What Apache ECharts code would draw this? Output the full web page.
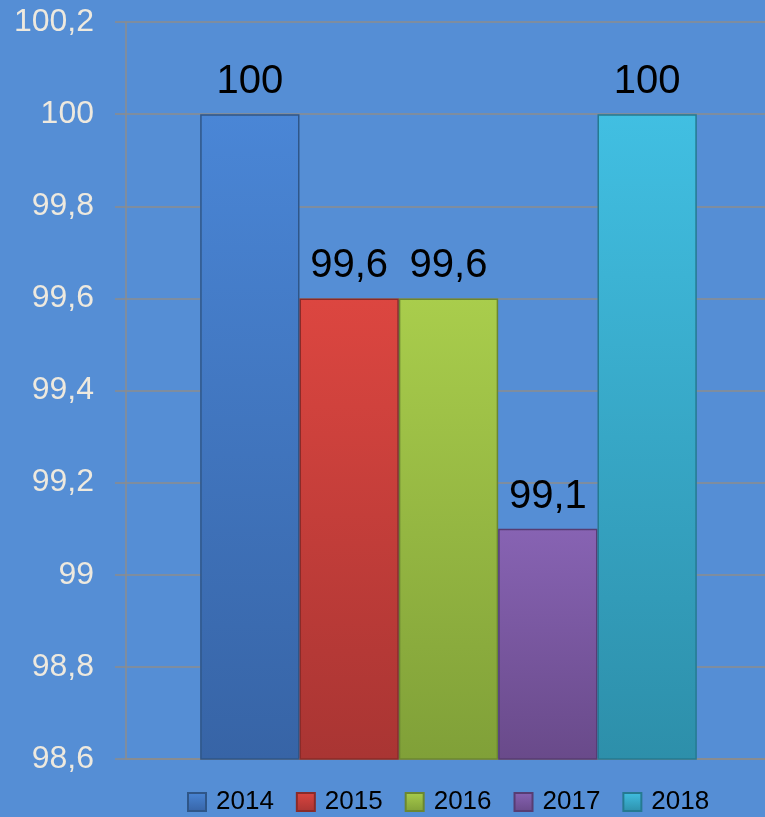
<!DOCTYPE html>
<html>
<head>
<meta charset="utf-8">
<script src="https://cdn.jsdelivr.net/npm/echarts@6/dist/echarts.min.js"></script>
<style>
html,body{margin:0;padding:0;background:#558ED5;overflow:hidden;}
#chart{width:771px;height:817px;}
</style>
</head>
<body>
<div id="chart"></div>
<script>
var years = ['2014', '2015', '2016', '2017', '2018'];
var values = [100, 99.6, 99.6, 99.1, 100];
var yMin = 98.6, yMax = 100.2, yStep = 0.2;
var topColors = ['#4A86D6', '#DC4640', '#A9CD4C', '#8763B3', '#41BFE2'];
var bottomColors = ['#3764A6', '#A93533', '#80A038', '#694A8A', '#2D8FAA'];
var borderColors = ['#2F5688', '#8A2B29', '#6B8730', '#573D73', '#257A91'];

function fmt(v) {
  return String(parseFloat(Number(v).toFixed(1))).replace('.', ',');
}

var chart = echarts.init(document.getElementById('chart'));
var series = years.map(function (y, i) {
  return {
    name: y,
    type: 'bar',
    barGap: '0%',
    barCategoryGap: '23%',
    data: [values[i]],
    itemStyle: {
      color: new echarts.graphic.LinearGradient(0, 0, 0, 1, [
        {offset: 0, color: topColors[i]},
        {offset: 1, color: bottomColors[i]}
      ]),
      borderColor: borderColors[i],
      borderWidth: 1.5
    },
    label: {
      show: true,
      position: 'top',
      distance: 12,
      color: '#000',
      fontSize: 40,
      fontFamily: 'Liberation Sans',
      formatter: function (p) { return fmt(p.value); }
    }
  };
});

chart.setOption({
  backgroundColor: '#558ED5',
  animation: false,
  grid: {left: 126, right: 0, top: 22, bottom: 58, containLabel: false},
  legend: {
    data: years,
    left: 182,
    bottom: -3,
    itemWidth: 18,
    itemHeight: 18,
    itemGap: 22,
    icon: 'rect',
    textStyle: {color: '#000', fontSize: 26, fontFamily: 'Liberation Sans', padding: [0, 0, 0, 5]}
  },
  xAxis: {
    type: 'category',
    data: [''],
    axisLine: {show: true, lineStyle: {color: '#8C8C8C', width: 1.5}},
    axisTick: {show: false},
    axisLabel: {show: false},
    splitLine: {show: false}
  },
  yAxis: {
    type: 'value',
    min: yMin,
    max: yMax,
    interval: yStep,
    axisLine: {show: true, lineStyle: {color: '#8C8C8C', width: 1.5}},
    axisTick: {show: true, length: 11, lineStyle: {color: '#8C8C8C', width: 1.5}},
    splitLine: {show: true, lineStyle: {color: '#8C8C8C', width: 1.5}},
    axisLabel: {
      color: '#EEE9DE',
      fontSize: 32,
      fontFamily: 'Liberation Sans',
      margin: 32,
      formatter: fmt
    }
  },
  series: series
});
</script>
</body>
</html>
